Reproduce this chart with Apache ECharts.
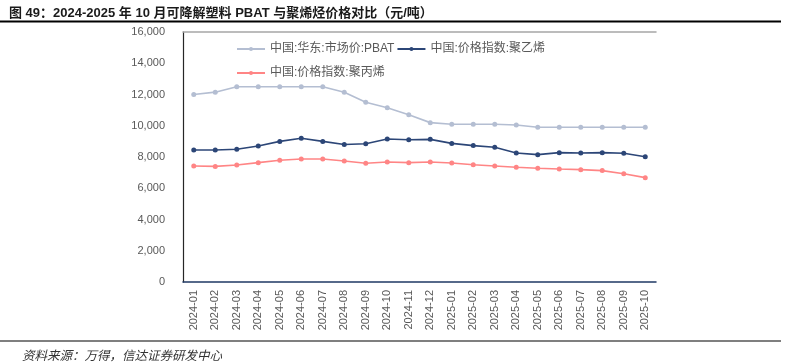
<!DOCTYPE html>
<html>
<head>
<meta charset="utf-8">
<script src="https://cdn.jsdelivr.net/npm/echarts@6/dist/echarts.min.js"></script>
<style>
html,body{margin:0;padding:0;background:#fff;}
#chart{width:792px;height:362px;}
</style>
</head>
<body>
<div id="chart"></div>
<script>
const categories = ['2024-01','2024-02','2024-03','2024-04','2024-05','2024-06','2024-07','2024-08','2024-09','2024-10','2024-11','2024-12',
  '2025-01','2025-02','2025-03','2025-04','2025-05','2025-06','2025-07','2025-08','2025-09','2025-10'];
const pbat = [12000,12150,12500,12500,12500,12500,12500,12150,11500,11150,10700,10200,
  10100,10100,10100,10050,9900,9900,9900,9900,9900,9900];
const pe = [8450,8450,8500,8700,9000,9200,9000,8800,8850,9150,9100,9130,
  8870,8730,8620,8260,8150,8280,8260,8280,8240,8020];
const pp = [7420,7400,7490,7640,7790,7870,7870,7740,7600,7680,7640,7680,
  7620,7500,7420,7340,7280,7230,7190,7130,6930,6680];
const seriesNames = ['中国:华东:市场价:PBAT','中国:价格指数:聚乙烯','中国:价格指数:聚丙烯'];
const yTicks = {min:0, max:16000, interval:2000};
const titleText = '图 49：2024-2025 年 10 月可降解塑料 PBAT 与聚烯烃价格对比（元/吨）';
const sourceText = '资料来源：万得，信达证券研发中心';

const chart = echarts.init(document.getElementById('chart'), null, {renderer:'canvas'});
const cjk = '"Liberation Sans","Noto Sans CJK SC",sans-serif';
const legendText = {color:'#595959', fontSize:12, fontFamily:cjk};
function mkSeries(name, data, color){
  return {name, type:'line', data, symbol:'circle', symbolSize:5, showSymbol:true,
    lineStyle:{color, width:1.6}, itemStyle:{color}, emphasis:{disabled:true}, z:3};
}
chart.setOption({
  animation:false,
  title:[
    {text:titleText, left:4, top:2, textStyle:{fontSize:13, fontWeight:'bold', color:'#1a1a1a', fontFamily:cjk}},
    {text:sourceText, left:17, top:345, textStyle:{fontSize:12.5, fontWeight:'normal', fontStyle:'italic', color:'#333', fontFamily:cjk}}
  ],
  legend:[
    {data:[seriesNames[0], seriesNames[1]], left:231, top:38, itemWidth:28, itemHeight:5, itemGap:2, textStyle:legendText, selectedMode:false},
    {data:[seriesNames[2]], left:231, top:62, itemWidth:28, itemHeight:5, itemGap:2, textStyle:legendText, selectedMode:false}
  ],
  grid:{left:183, right:136, top:32, bottom:80, containLabel:false},
  xAxis:[
    {type:'category', data:categories, boundaryGap:true,
      axisLine:{show:true, lineStyle:{color:'#1F3864', width:1.5}},
      axisTick:{show:false},
      axisLabel:{rotate:90, interval:0, margin:8, fontSize:11, color:'#595959', fontFamily:'"Liberation Sans",sans-serif'},
      splitLine:{show:false}},
    {type:'category', data:categories, position:'top', boundaryGap:true,
      axisLine:{show:true, lineStyle:{color:'#A6A6A6', width:1.5}},
      axisTick:{show:false}, axisLabel:{show:false}, splitLine:{show:false}}
  ],
  yAxis:{type:'value', min:yTicks.min, max:yTicks.max, interval:yTicks.interval,
    axisLine:{show:true, lineStyle:{color:'#262626', width:1.2}},
    axisTick:{show:false}, splitLine:{show:false},
    axisLabel:{margin:18, fontSize:11, color:'#595959', fontFamily:'"Liberation Sans",sans-serif',
      formatter:v=>v.toLocaleString('en-US')}},
  series:[
    mkSeries(seriesNames[0], pbat, '#B4BED2'),
    mkSeries(seriesNames[1], pe, '#2C4677'),
    mkSeries(seriesNames[2], pp, '#FF8585')
  ],
  graphic:[
    {type:'line', shape:{x1:0, y1:21.5, x2:781, y2:21.5}, style:{stroke:'#000', lineWidth:1.8}, silent:true},
    {type:'line', shape:{x1:0, y1:341, x2:781, y2:341}, style:{stroke:'#000', lineWidth:1.2}, silent:true}
  ]
});
</script>
</body>
</html>
